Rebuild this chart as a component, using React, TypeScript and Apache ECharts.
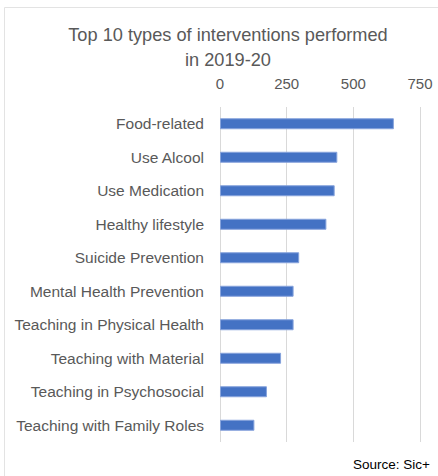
import React, { useEffect, useRef } from "react";
import * as echarts from "echarts";

const categories = [
  "Food-related",
  "Use Alcool",
  "Use Medication",
  "Healthy lifestyle",
  "Suicide Prevention",
  "Mental Health Prevention",
  "Teaching in Physical Health",
  "Teaching with Material",
  "Teaching in Psychosocial",
  "Teaching with Family Roles",
];
const values = [652, 440, 430, 399, 297, 276, 276, 229, 176, 129];
const titleLines = ["Top 10 types of interventions performed", "in 2019-20"];
const sourceText = "Source: Sic+";

const FONT = "'Liberation Sans', 'DejaVu Sans', sans-serif";
const TEXT = "#595959";

export default function App() {
  const ref = useRef<HTMLDivElement>(null);
  useEffect(() => {
    if (!ref.current) return;
    const chart = echarts.init(ref.current, null, { renderer: "svg" });
    chart.setOption({
      animation: false,
      backgroundColor: "#ffffff",
      title: {
        text: titleLines.join("\n"),
        left: 223,
        top: 17,
        textAlign: "center",
        textStyle: {
          fontFamily: FONT,
          fontSize: 18.2,
          fontWeight: "normal",
          color: TEXT,
          lineHeight: 25,
        },
      },
      graphic: [
        {
          type: "rect",
          shape: { x: 4.5, y: 7.5, width: 460, height: 500 },
          style: { fill: "none", stroke: "#e3e3e3", lineWidth: 1 },
          silent: true,
          z: -1,
        },
        {
          type: "text",
          right: 8,
          top: 457,
          style: {
            text: sourceText,
            font: `13.5px ${FONT}`,
            fill: "#000000",
          },
        },
      ],
      grid: { left: 220, right: 18, top: 107, bottom: 34 },
      xAxis: {
        type: "value",
        position: "top",
        min: 0,
        max: 750,
        interval: 250,
        axisLine: { show: false },
        axisTick: { show: false },
        axisLabel: { fontFamily: FONT, fontSize: 15, color: TEXT, margin: 16 },
        splitLine: { show: true, lineStyle: { color: "#d9d9d9", width: 1 } },
      },
      yAxis: {
        type: "category",
        data: categories,
        inverse: true,
        axisLine: { show: false },
        axisTick: { show: false },
        axisLabel: { fontFamily: FONT, fontSize: 15.5, color: TEXT, margin: 16 },
      },
      series: [
        {
          type: "bar",
          data: values,
          barWidth: 11,
          itemStyle: {
            color: "#4472C4",
            borderColor: "#86a3dc",
            borderWidth: 1,
          },
        },
      ],
    });
    return () => chart.dispose();
  }, []);
  return (
    <div
      ref={ref}
      style={{ position: "absolute", left: 0, top: 0, width: 438, height: 476 }}
    />
  );
}
